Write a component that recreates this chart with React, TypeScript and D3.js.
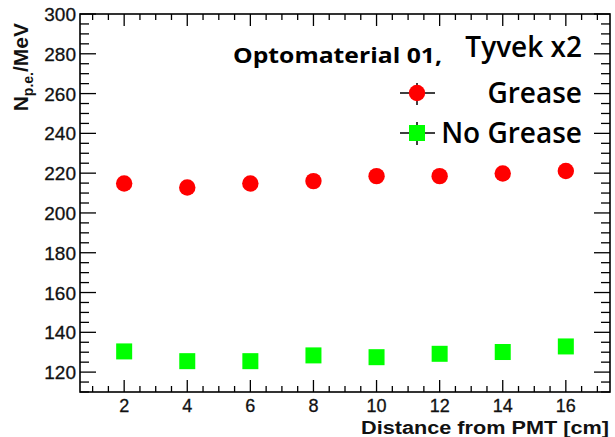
import * as d3 from 'd3'

// distance from PMT [cm]
const distances = [2, 4, 6, 8, 10, 12, 14, 16]
const greaseValues = [214.8, 212.8, 214.8, 216.0, 218.5, 218.5, 219.8, 221.1]
const noGreaseValues = [130.4, 125.5, 125.5, 128.4, 127.5, 129.2, 130.1, 132.9]
const xTickLabels = [2, 4, 6, 8, 10, 12, 14, 16]
const yTickLabels = [120, 140, 160, 180, 200, 220, 240, 260, 280, 300]

const W = 615
const H = 437
const left = 80
const right = 610
const top = 14
const bottom = 392

export default function App() {
  const x = d3.scaleLinear().domain([0.6, 17.4]).range([left, right])
  const y = d3.scaleLinear().domain([110, 300]).range([bottom, top])

  const xMinor = d3.range(1, 17.01, 0.5).filter(v => !xTickLabels.includes(v))
  const yMinor = d3.range(110, 300.01, 5).filter(v => !yTickLabels.includes(v))

  const axisFont = '"Liberation Sans", Arial, sans-serif'
  const legendFont = '"Open Sans", Lato, sans-serif'

  return (
    <svg width={W} height={H} style={{ position: 'absolute', left: 0, top: 0, background: '#fff' }}>
      {/* ticks bottom / top */}
      {xMinor.map(v => (
        <g key={'xm' + v} stroke="#000" strokeWidth={1.3}>
          <line x1={x(v)} x2={x(v)} y1={bottom} y2={bottom - 6} />
          <line x1={x(v)} x2={x(v)} y1={top} y2={top + 6} />
        </g>
      ))}
      {xTickLabels.map(v => (
        <g key={'xM' + v}>
          <line x1={x(v)} x2={x(v)} y1={bottom} y2={bottom - 12} stroke="#000" strokeWidth={1.3} />
          <line x1={x(v)} x2={x(v)} y1={top} y2={top + 12} stroke="#000" strokeWidth={1.3} />
          <text x={x(v)} y={412} textAnchor="middle" fontFamily={axisFont} fontSize={18} fill="#111" stroke="#111" strokeWidth={0.3}>
            {v}
          </text>
        </g>
      ))}
      {/* ticks left / right */}
      {yMinor.map(v => (
        <g key={'ym' + v} stroke="#000" strokeWidth={1.3}>
          <line x1={left} x2={left + 9} y1={y(v)} y2={y(v)} />
          <line x1={right} x2={right - 9} y1={y(v)} y2={y(v)} />
        </g>
      ))}
      {yTickLabels.map(v => (
        <g key={'yM' + v}>
          <line x1={left} x2={left + 16} y1={y(v)} y2={y(v)} stroke="#000" strokeWidth={1.3} />
          <line x1={right} x2={right - 16} y1={y(v)} y2={y(v)} stroke="#000" strokeWidth={1.3} />
          <text x={76} y={y(v) + 7} textAnchor="end" fontFamily={axisFont} fontSize={19} fill="#111" stroke="#111" strokeWidth={0.3}>
            {v}
          </text>
        </g>
      ))}
      <rect x={left} y={top} width={right - left} height={bottom - top} fill="none" stroke="#000" strokeWidth={1.6} />

      {/* axis titles */}
      <text x={609} y={434} textAnchor="end" fontFamily={axisFont} fontSize={18} fontWeight="bold" fill="#111" textLength={248} lengthAdjust="spacingAndGlyphs">
        Distance from PMT [cm]
      </text>
      <text
        transform="translate(28,23) rotate(-90)"
        textAnchor="end"
        fontFamily={axisFont}
        fontSize={21}
        fontWeight="bold"
        fill="#111"
      >
        N<tspan fontSize={14} dy={5}>p.e.</tspan>
        <tspan dy={-5}>/MeV</tspan>
      </text>

      {/* data */}
      {greaseValues.map((v, i) => (
        <circle key={'g' + i} cx={x(distances[i])} cy={y(v)} r={8.2} fill="#ff0000" />
      ))}
      {noGreaseValues.map((v, i) => (
        <rect key={'n' + i} x={x(distances[i]) - 8} y={y(v) - 8} width={16} height={16} fill="#00ff00" />
      ))}

      {/* legend */}
      <text x={442} y={63} textAnchor="end" fontFamily={legendFont} fontSize={22} fontWeight="bold" fill="#000" textLength={209} lengthAdjust="spacingAndGlyphs">
        Optomaterial 01,
      </text>
      <text x={582} y={57} textAnchor="end" fontFamily={legendFont} fontSize={28} fontWeight={600} fill="#000">
        Tyvek x2
      </text>
      <g stroke="#000" strokeWidth={1.5}>
        <line x1={400} x2={435} y1={93} y2={93} />
        <line x1={417} x2={417} y1={83} y2={105} />
        <line x1={400} x2={435} y1={133} y2={133} />
        <line x1={417} x2={417} y1={122} y2={145} />
      </g>
      <circle cx={417} cy={93} r={8.2} fill="#ff0000" />
      <rect x={409} y={125} width={16} height={16} fill="#00ff00" />
      <text x={582} y={103} textAnchor="end" fontFamily={legendFont} fontSize={28} fontWeight={600} fill="#000">
        Grease
      </text>
      <text x={582} y={143} textAnchor="end" fontFamily={legendFont} fontSize={28} fontWeight={600} fill="#000">
        No Grease
      </text>
    </svg>
  )
}
